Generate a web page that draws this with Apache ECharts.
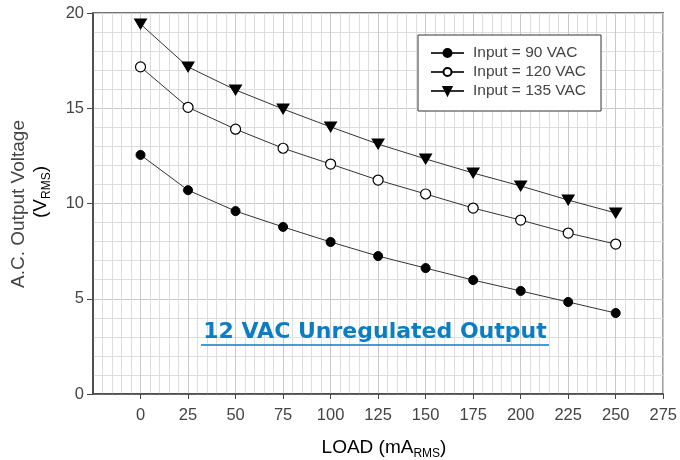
<!DOCTYPE html>
<html>
<head>
<meta charset="UTF-8">
<title>12 VAC Unregulated Output</title>
<script src="https://cdn.jsdelivr.net/npm/echarts@6/dist/echarts.min.js"></script>
<style>
    html, body { margin: 0; padding: 0; background: #fff; }
    #chart { width: 680px; height: 460px; }
</style>
</head>
<body>
<div id="chart"></div>
<script>
    // load in mA rms
    var loads = [0, 25, 50, 75, 100, 125, 150, 175, 200, 225, 250];
    var xTicks = [0, 25, 50, 75, 100, 125, 150, 175, 200, 225, 250, 275];
    // output voltage (V rms)
    var in90 = [12.55, 10.7, 9.6, 8.77, 7.98, 7.24, 6.61, 5.98, 5.41, 4.83, 4.25];
    var in120 = [17.17, 15.05, 13.9, 12.9, 12.07, 11.23, 10.5, 9.76, 9.13, 8.45, 7.87];
    var in135 = [19.42, 17.17, 15.96, 14.96, 14.02, 13.12, 12.34, 11.6, 10.92, 10.18, 9.5];

    function pairs(arr) {
        return loads.map(function (x, i) { return [x, arr[i]]; });
    }

    var font = 'Liberation Sans, Arial, sans-serif';
    var chart = echarts.init(document.getElementById('chart'));

    var lineStyle = { color: '#333', width: 1 };
    var subRich = {
        a: { fontFamily: font, fontSize: 19, color: '#444', verticalAlign: 'middle', lineHeight: 24 },
        s: { fontFamily: font, fontSize: 12, color: '#444', verticalAlign: 'bottom', lineHeight: 24 }
    };

    var option = {
        backgroundColor: '#fff',
        animation: false,
        grid: {
            left: 93, right: 12, top: 13, bottom: 66,
            show: true, borderColor: '#444', borderWidth: 1.5, backgroundColor: '#fff'
        },
        legend: {
            orient: 'vertical',
            left: 418, top: 35,
            padding: [10, 15, 12, 12],
            backgroundColor: '#fff',
            borderColor: '#333',
            borderWidth: 1,
            borderRadius: 0,
            itemGap: 3,
            itemWidth: 33,
            itemHeight: 10,
            textStyle: { fontFamily: font, fontSize: 15.5, color: '#444', padding: [0, 0, 0, 4] },
            data: ['Input = 90 VAC', 'Input = 120 VAC', 'Input = 135 VAC']
        },
        xAxis: {
            type: 'value',
            min: -25, max: 275, interval: 25,
            axisLine: { show: true, onZero: false, lineStyle: { color: '#444', width: 1.5 } },
            axisTick: { show: true, length: 5, customValues: xTicks, lineStyle: { color: '#444' } },
            axisLabel: { customValues: xTicks, margin: 13, fontFamily: font, fontSize: 16.5, color: '#444' },
            splitLine: { show: true, lineStyle: { color: '#cacaca', width: 1 } },
            minorTick: { show: false, splitNumber: 5 },
            minorSplitLine: { show: true, lineStyle: { color: '#dedede', width: 1 } }
        },
        yAxis: {
            type: 'value',
            min: 0, max: 20, interval: 5,
            axisLine: { show: true, onZero: false, lineStyle: { color: '#444', width: 1.5 } },
            axisTick: { show: true, length: 6, lineStyle: { color: '#444' } },
            axisLabel: { margin: 9, fontFamily: font, fontSize: 16.5, color: '#444' },
            splitLine: { show: true, lineStyle: { color: '#cacaca', width: 1 } },
            minorTick: { show: false, splitNumber: 5 },
            minorSplitLine: { show: true, lineStyle: { color: '#dedede', width: 1 } }
        },
        graphic: [
            {
                type: 'text',
                rotation: Math.PI / 2,
                x: 19, y: 204,
                style: {
                    text: 'A.C. Output Voltage',
                    font: '19px ' + font,
                    fill: '#444',
                    align: 'center',
                    verticalAlign: 'middle'
                }
            },
            {
                type: 'text',
                rotation: Math.PI / 2,
                x: 41, y: 192,
                style: {
                    text: '{a|(V}{s|RMS}{a|)}',
                    rich: subRich,
                    align: 'center',
                    verticalAlign: 'middle'
                }
            },
            {
                type: 'text',
                x: 384, y: 448,
                style: {
                    text: '{a|LOAD (mA}{s|RMS}{a|)}',
                    rich: subRich,
                    align: 'center',
                    verticalAlign: 'middle'
                }
            },
            {
                type: 'text',
                x: 375, y: 332,
                z: 100,
                style: {
                    text: '12 VAC Unregulated Output',
                    font: 'bold 22px DejaVu Sans, ' + font,
                    fill: '#0a7dc4',
                    align: 'center',
                    verticalAlign: 'middle'
                }
            },
            {
                type: 'line',
                z: 100,
                shape: { x1: 201, y1: 345, x2: 549, y2: 345 },
                style: { stroke: '#0a7dc4', lineWidth: 1.5 }
            }
        ],
        series: [
            {
                name: 'Input = 90 VAC',
                type: 'line',
                data: pairs(in90),
                symbol: 'circle',
                symbolSize: 9,
                showAllSymbol: true,
                lineStyle: lineStyle,
                itemStyle: { color: '#000', borderColor: '#000', borderWidth: 1 }
            },
            {
                name: 'Input = 120 VAC',
                type: 'line',
                data: pairs(in120),
                symbol: 'circle',
                symbolSize: 10,
                showAllSymbol: true,
                lineStyle: lineStyle,
                itemStyle: { color: '#fff', borderColor: '#000', borderWidth: 1.2 }
            },
            {
                name: 'Input = 135 VAC',
                type: 'line',
                data: pairs(in135),
                symbol: 'triangle',
                symbolRotate: 180,
                symbolSize: [12, 10],
                showAllSymbol: true,
                lineStyle: lineStyle,
                itemStyle: { color: '#000', borderColor: '#000', borderWidth: 1 }
            }
        ]
    };
    chart.setOption(option);
</script>
</body>
</html>
